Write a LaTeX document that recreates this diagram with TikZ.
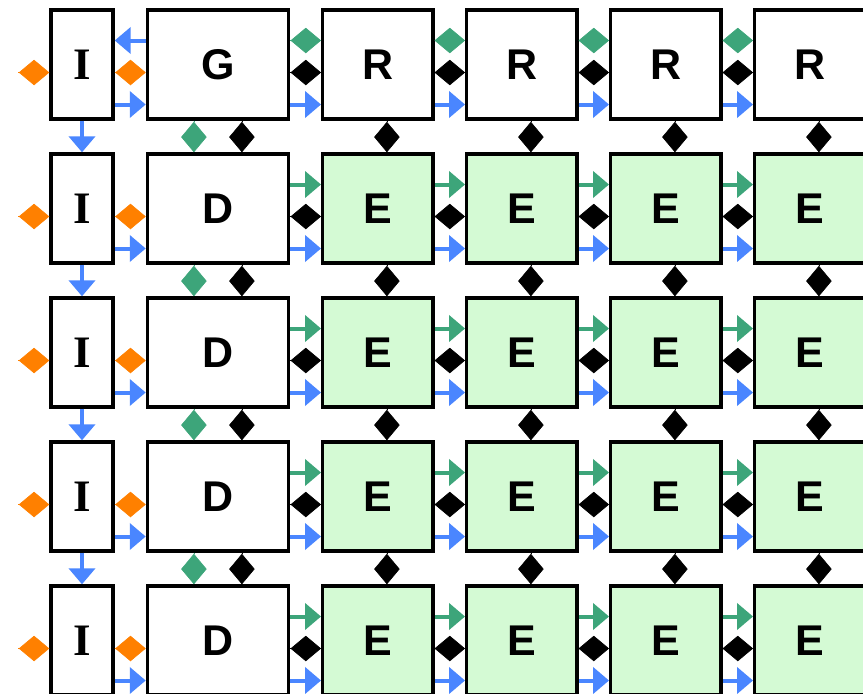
\documentclass[tikz,border=0pt]{standalone}
\usepackage{fontspec}
\setmainfont{Liberation Sans}
\newfontfamily\serifbold{Liberation Serif}
\usetikzlibrary{arrows.meta,calc}

\definecolor{cOrange}{HTML}{FF8000}
\definecolor{cBlue}{HTML}{4A86FF}
\definecolor{cGreen}{HTML}{3DA57A}
\definecolor{cFill}{HTML}{D4FAD4}

\tikzset{
  box/.style={draw=black, line width=3.3pt, inner sep=0pt, minimum height=109.1pt,
    font=\fontsize{43}{43}\selectfont\bfseries},
  ibox/.style={box, fill=white, minimum width=62.1pt,
    font=\fontsize{45}{45}\selectfont\serifbold\bfseries},
  dbox/.style={box, fill=white, minimum width=141pt},
  rbox/.style={box, fill=white, minimum width=110.4pt},
  ebox/.style={box, fill=cFill, minimum width=110.4pt},
  barrow/.style={draw=cBlue, line width=4pt, -{Triangle[length=16pt,width=26pt,fill=cBlue]}},
  garrow/.style={draw=cGreen, line width=4pt, -{Triangle[length=16pt,width=26pt,fill=cGreen]}},
  dia/.style={line width=0.6pt, -{Diamond[length=30.5pt,width=25.5pt]}},
  odia/.style={dia, draw=cOrange, fill=cOrange},
  kdia/.style={dia, draw=black, fill=black},
  gdia/.style={dia, draw=cGreen, fill=cGreen},
}

\begin{document}
\begin{tikzpicture}[x=1pt, y=-1pt]
\useasboundingbox (0,0) rectangle (863,694);

% boxes: I column, G/D column (index 0), R/E columns (1..4)
\foreach \r in {1,...,5}{
  \pgfmathsetmacro\yy{64.5+144*(\r-1)}
  \node[ibox] (I\r) at (82,\yy) {I};
  \ifnum\r=1
    \node[dbox] (B\r-0) at (217.9,\yy) {G};
  \else
    \node[dbox] (B\r-0) at (217.9,\yy) {D};
  \fi
  \foreach \c in {1,...,4}{
    \pgfmathsetmacro\xx{377.9+144*(\c-1)}
    \ifnum\r=1
      \node[rbox] (B\r-\c) at (\xx,\yy) {R};
    \else
      \node[ebox] (B\r-\c) at (\xx,\yy) {E};
    \fi
  }
}

% horizontal connectors: upper lane, middle lane, lower lane
\foreach \r in {1,...,5}{
  \pgfmathsetmacro\yy{72.5+144*(\r-1)}
  \coordinate (src\r) at (18,\yy);
  \draw[odia] (src\r) -- ([yshift=-8pt]I\r.west);
  \draw[odia] ([yshift=-8pt]I\r.east) -- ([yshift=-8pt]B\r-0.west);
  \draw[barrow] ([yshift=-40pt]I\r.east) -- ([yshift=-40pt]B\r-0.west);
  \foreach \c in {1,...,4}{
    \pgfmathtruncatemacro\p{\c-1}
    \ifnum\r=1
      \draw[gdia] ([yshift=24pt]B\r-\p.east) -- ([yshift=24pt]B\r-\c.west);
    \else
      \draw[garrow] ([yshift=24pt]B\r-\p.east) -- ([yshift=24pt]B\r-\c.west);
    \fi
    \draw[kdia] ([yshift=-8pt]B\r-\p.east) -- ([yshift=-8pt]B\r-\c.west);
    \draw[barrow] ([yshift=-40pt]B\r-\p.east) -- ([yshift=-40pt]B\r-\c.west);
  }
}
\draw[barrow] ([yshift=24pt]B1-0.west) -- ([yshift=24pt]I1.east);

% vertical connectors
\foreach \r in {1,...,4}{
  \pgfmathtruncatemacro\n{\r+1}
  \draw[barrow] (I\r.south) -- (I\n.north);
  \draw[gdia] ([xshift=-24pt]B\r-0.south) -- ([xshift=-24pt]B\n-0.north);
  \draw[kdia] ([xshift=24pt]B\r-0.south) -- ([xshift=24pt]B\n-0.north);
  \foreach \c in {1,...,4}{
    \draw[kdia] ([xshift=9pt]B\r-\c.south) -- ([xshift=9pt]B\n-\c.north);
  }
}
\end{tikzpicture}
\end{document}
